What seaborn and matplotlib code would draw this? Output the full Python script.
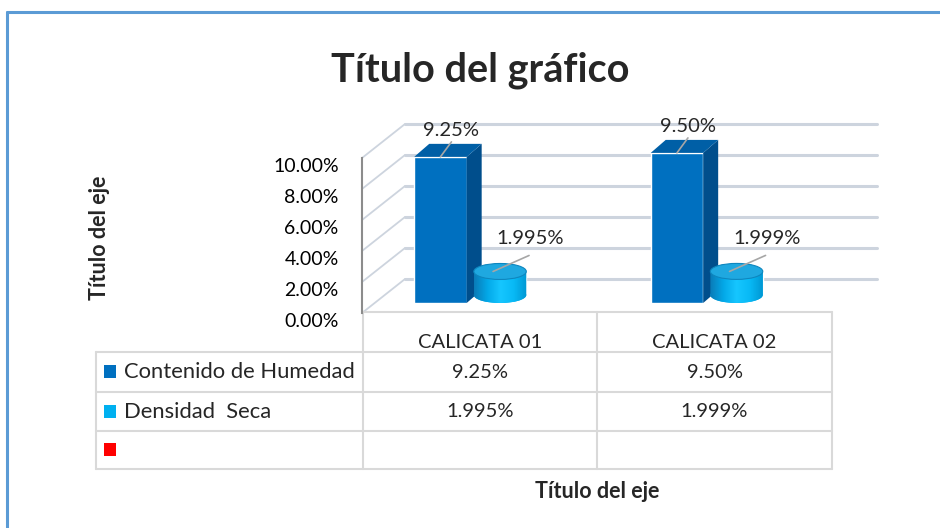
import numpy as np
import pandas as pd
import seaborn as sns
import matplotlib
matplotlib.use("Agg")
import matplotlib.pyplot as plt
from matplotlib.patches import Polygon, Ellipse, Rectangle
from matplotlib.colors import LinearSegmentedColormap
from matplotlib.ticker import MultipleLocator, FuncFormatter
from matplotlib.transforms import ScaledTranslation

# ---- data ----
categories = ["CALICATA 01", "CALICATA 02"]
series_names = ["Contenido de Humedad", "Densidad  Seca"]
humedad = [9.25, 9.50]
densidad = [1.995, 1.999]
decimals = [2, 3]
y_ticks = [0, 2, 4, 6, 8, 10]
series_colors = ["#0070C0", "#00B0F0", "#FF0000"]

title = "Título del gráfico"
axis_title = "Título del eje"

W, H = 940, 528
sns.set_style("white")
plt.rcParams["font.family"] = ["Lato", "DejaVu Sans"]

fig = plt.figure(figsize=(W / 100, H / 100), dpi=100)


def box(l, t, r, b):
    return [l / W, 1 - b / H, (r - l) / W, (b - t) / H]


def img_xy(a, x, y):
    X, Y = a.transData.transform((x, y))
    return X, H - Y


def px2data(a, dx, dy):
    inv = a.transData.inverted()
    x0, y0 = inv.transform((0, 0))
    x1, y1 = inv.transform((dx, dy))
    return x1 - x0, y1 - y0


# overlay in image pixels: frame, back wall, table, titles
ov = fig.add_axes([0, 0, 1, 1], zorder=0)
ov.set_xlim(0, W)
ov.set_ylim(H, 0)
ov.axis("off")

# front plane with the value axis
ax = fig.add_axes(box(362, 158, 832, 313), zorder=1)
ax.set_xlim(-0.5, 1.5)
ax.set_ylim(0, 10)
ax.patch.set_visible(False)
for s in ["top", "right", "bottom"]:
    ax.spines[s].set_visible(False)
ax.spines["left"].set_color("#8C8C8C")
ax.spines["left"].set_linewidth(1.5)
ax.set_xticks([])
ax.set_yticks(y_ticks)
ax.yaxis.set_minor_locator(MultipleLocator(0.4))
ax.yaxis.set_major_formatter(FuncFormatter(lambda v, p: f"{v:.2f}%"))
ax.tick_params(axis="y", which="major", direction="inout", length=9.5, width=1.5,
               color="#8C8C8C", pad=12, labelsize=14, labelcolor="black")
ax.tick_params(axis="y", which="minor", direction="in", length=3.6, width=1, color="#8C8C8C")
for lab in ax.get_yticklabels():
    lab.set_transform(lab.get_transform() + ScaledTranslation(0, -7 / 100, fig.dpi_scale_trans))

# back wall gridlines + side wall diagonals
grid_c = "#CDD4DE"
for v in y_ticks:
    fx, fy = img_xy(ax, -0.5, v)
    ov.plot([fx, fx + 43], [fy, fy - 34], color=grid_c, lw=1.3)
    ov.plot([fx + 43, 877], [fy - 34, fy - 34], color=grid_c, lw=2.2)

# bars
axb = fig.add_axes(box(352, 145, 825, 303), zorder=2)
df = pd.DataFrame({
    "calicata": categories * 2,
    "serie": [series_names[0]] * len(categories) + [series_names[1]] * len(categories),
    "valor": humedad + densidad,
})
sns.barplot(data=df, x="calicata", y="valor", hue="serie", ax=axb,
            palette=series_colors[:2], width=0.504, gap=0.12, saturation=1,
            legend=False, errorbar=None)
axb.set_xlim(-0.5, 1.5)
axb.set_ylim(0, 10)
axb.axis("off")
axb.set_autoscale_on(False)

ddx, ddy = px2data(axb, 15, 13)
_, ey = px2data(axb, 0, 8)
cyl_cmap = LinearSegmentedColormap.from_list(
    "cyl", ["#0A7CB8", "#03A8E8", "#16C6FF", "#08BAF6", "#0098D4"])
grad = np.linspace(0, 1, 64).reshape(1, -1)
lead_c = "#A6A6A6"

# boxes (series 1)
for rect, v in zip(axb.containers[0], humedad):
    x, w = rect.get_x(), rect.get_width()
    axb.add_patch(Polygon([(x + w, 0), (x + w + ddx, ddy), (x + w + ddx, v + ddy), (x + w, v)],
                          closed=True, fc="#004E8C", ec="none", clip_on=False))
    axb.add_patch(Polygon([(x, v), (x + ddx, v + ddy), (x + w + ddx, v + ddy), (x + w, v)],
                          closed=True, fc="#005FA6", ec="none", clip_on=False))
    cx = x + w / 2
    ox, oy = px2data(axb, 11, 15)
    axb.plot([cx, cx + ox], [v, v + oy], color=lead_c, lw=1.2, clip_on=False, zorder=5)
    axb.annotate(f"{v:.{decimals[0]}f}%", xy=(cx + ox, v + oy), xytext=(0, 3),
                 textcoords="offset pixels", ha="center", va="bottom",
                 fontsize=14.5, annotation_clip=False)

# cylinders (series 2)
t = np.linspace(0, np.pi, 40)
for rect, v in zip(axb.containers[1], densidad):
    x, w = rect.get_x(), rect.get_width()
    cx = x + w / 2
    rect.set_y(ey)
    rect.set_height(v - ey)
    rect.set_clip_on(False)
    axb.add_patch(Ellipse((cx, ey), w, 2 * ey, fc=series_colors[1], ec="none", clip_on=False))
    verts = [(x, v), (x + w, v)] + [(cx + w / 2 * np.cos(a), ey - ey * np.sin(a)) for a in t]
    sil = Polygon(verts, closed=True, fc="none", ec="none", transform=axb.transData)
    axb.add_patch(sil)
    im = axb.imshow(grad, cmap=cyl_cmap, extent=(x, x + w, 0, v), aspect="auto",
                    zorder=rect.get_zorder() + 0.1, interpolation="bilinear")
    im.set_clip_path(sil)
    axb.add_patch(Ellipse((cx, v), w, 2 * ey, fc="#1FA8E0", ec="#0E86BE", lw=0.8,
                          zorder=rect.get_zorder() + 0.2, clip_on=False))
    sx, _ = px2data(axb, -7, 0)
    ex, eyy = px2data(axb, 29, 16)
    axb.plot([cx + sx, cx + ex], [v, v + eyy], color=lead_c, lw=1.2, clip_on=False, zorder=5)
    lx, ly = px2data(axb, 30, 33)
    axb.text(cx + lx, v + ly, f"{v:.{decimals[1]}f}%", ha="center", va="center",
             fontsize=14.5, clip_on=False)

axb.set_xlim(-0.5, 1.5)
axb.set_ylim(0, 10)

# chart frame
frame_c = "#5B9BD5"
ov.plot([7, W], [12, 12], color=frame_c, lw=2.2)
ov.plot([7, 7], [12, H], color=frame_c, lw=2.2)

# data table
tc = "#D9D9D9"
col_x = [96, 363, 597, 832]
row_y = [312, 352, 392, 431, 469]
ov.plot([col_x[1], col_x[3]], [row_y[0], row_y[0]], color=tc, lw=1.5)
for y in row_y[1:]:
    ov.plot([col_x[0], col_x[3]], [y, y], color=tc, lw=1.5)
for x in col_x[1:]:
    ov.plot([x, x], [row_y[0], row_y[-1]], color=tc, lw=1.5)
ov.plot([col_x[0], col_x[0]], [row_y[1], row_y[-1]], color=tc, lw=1.5)

col_cx = [(col_x[i] + col_x[i + 1]) / 2 for i in (1, 2)]
for cx, cat in zip(col_cx, categories):
    ov.text(cx, 342, cat, ha="center", va="center", fontsize=14.5)

rows = [(series_names[0], humedad, decimals[0]), (series_names[1], densidad, decimals[1]), ("", [], 0)]
for i, (name, vals, d) in enumerate(rows):
    yc = (row_y[i + 1] + row_y[i + 2]) / 2
    ov.add_patch(Rectangle((104, yc - 7), 12, 13, fc=series_colors[i], ec="none"))
    ov.text(124, yc, name, ha="left", va="center", fontsize=15.8)
    for cx, v in zip(col_cx, vals):
        ov.text(cx, yc, f"{v:.{d}f}%", ha="center", va="center", fontsize=14.5)

# titles
ov.text(480, 70, title, ha="center", va="center", fontsize=28.5, fontweight="bold")
ov.text(100, 238, axis_title, ha="center", va="center", rotation=90, fontsize=15.5, fontweight="bold")
ov.text(597, 492, axis_title, ha="center", va="center", fontsize=15.5, fontweight="bold")

fig.savefig("out.png", dpi=100)
